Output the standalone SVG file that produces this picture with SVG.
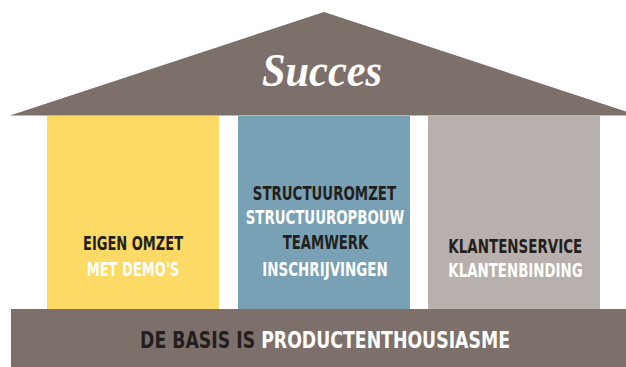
<svg xmlns="http://www.w3.org/2000/svg" width="626" height="367" viewBox="0 0 626 367">
<style>
.lbl{font-family:"DejaVu Sans Condensed","DejaVu Sans",sans-serif;font-stretch:condensed;font-weight:bold;font-size:20px;text-anchor:middle}
.dk{fill:#231f20}
.wt{fill:#ffffff}
.base{font-size:22.5px}
</style>
<rect width="626" height="367" fill="#ffffff"/>
<g id="roof">
<polygon points="10,115.5 324,12 638,115.5" fill="#7d706b"/>
<text x="322" y="86" text-anchor="middle" font-family="'Liberation Serif',serif" font-style="italic" font-weight="bold" font-size="46" fill="#ffffff" textLength="120" lengthAdjust="spacingAndGlyphs">Succes</text>
</g>
<g id="col-eigen">
<rect x="47" y="116" width="172" height="194" fill="#fdd966"/>
<text class="lbl dk" transform="translate(133,250.3) scale(0.72,1)" textLength="138.9" lengthAdjust="spacingAndGlyphs">EIGEN OMZET</text>
<text class="lbl wt" transform="translate(133,275.5) scale(0.72,1)" textLength="128.6" lengthAdjust="spacingAndGlyphs">MET DEMO'S</text>
</g>
<g id="col-structuur">
<rect x="238" y="116" width="172" height="194" fill="#79a1b5"/>
<text class="lbl dk" transform="translate(324.4,200) scale(0.72,1)" textLength="199" lengthAdjust="spacingAndGlyphs">STRUCTUUROMZET</text>
<text class="lbl wt" transform="translate(325,224.3) scale(0.72,1)" textLength="220.3" lengthAdjust="spacingAndGlyphs">STRUCTUUROPBOUW</text>
<text class="lbl dk" transform="translate(325.5,249) scale(0.72,1)" textLength="118.9" lengthAdjust="spacingAndGlyphs">TEAMWERK</text>
<text class="lbl wt" transform="translate(325,275.5) scale(0.72,1)" textLength="174.2" lengthAdjust="spacingAndGlyphs">INSCHRIJVINGEN</text>
</g>
<g id="col-klanten">
<rect x="428" y="116" width="172" height="194" fill="#b8b0ac"/>
<text class="lbl dk" transform="translate(515.3,252.5) scale(0.72,1)" textLength="186.1" lengthAdjust="spacingAndGlyphs">KLANTENSERVICE</text>
<text class="lbl wt" transform="translate(515.5,277.3) scale(0.72,1)" textLength="186.5" lengthAdjust="spacingAndGlyphs">KLANTENBINDING</text>
</g>
<g id="base">
<rect x="11" y="309" width="615" height="58" fill="#7d706b"/>
<text class="lbl base" transform="translate(325,348) scale(0.82,1)" textLength="451.2" lengthAdjust="spacingAndGlyphs"><tspan class="dk">DE BASIS IS</tspan> <tspan class="wt">PRODUCTENTHOUSIASME</tspan></text>
</g>
</svg>
